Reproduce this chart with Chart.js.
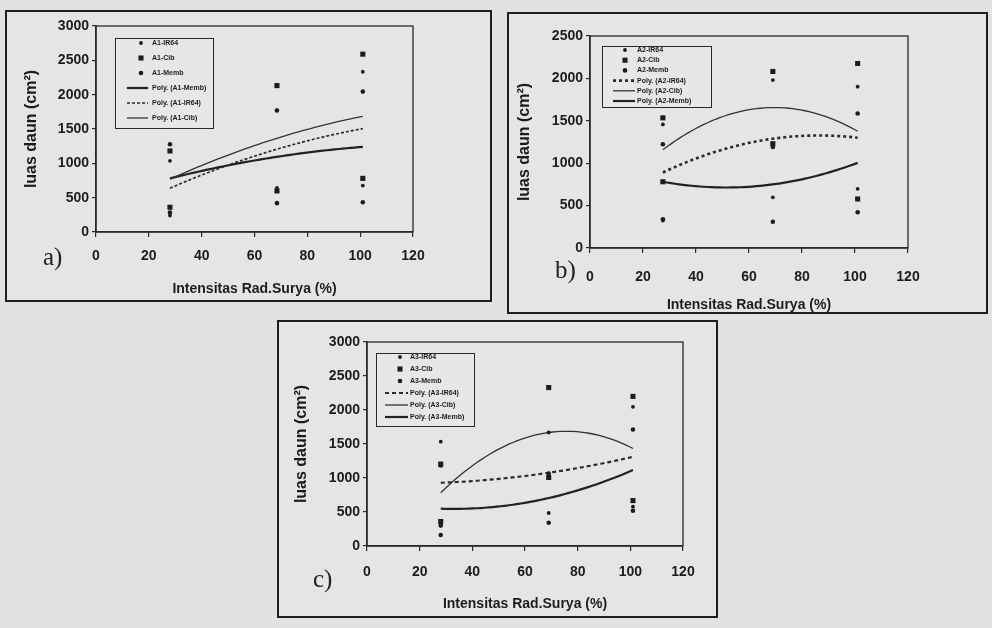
<!DOCTYPE html>
<html>
<head>
<meta charset="utf-8">
<script src="https://cdn.jsdelivr.net/npm/chart.js@4.4.1/dist/chart.umd.min.js"></script>
<style>
  html, body { margin: 0; padding: 0; background: #e4e2e1; }
  body { width: 992px; height: 628px; position: relative; overflow: hidden; }
  .panel { position: absolute; background: #e7e5e4; }
  .panel canvas { position: absolute; left: 0; top: 0; }
  .frame { position: absolute; inset: 0; box-sizing: border-box; border: 2px solid #1e1e1e; pointer-events: none; }
  .tag { position: absolute; font-family: "Liberation Serif", "DejaVu Serif", serif; font-size: 25px; line-height: 1; color: #222; }
</style>
</head>
<body>
<div class="panel" style="left:5px;top:10px;width:487px;height:292px"><canvas id="ca" width="487" height="292"></canvas><div class="frame"></div></div>
<div class="panel" style="left:507px;top:12px;width:481px;height:302px"><canvas id="cb" width="481" height="302"></canvas><div class="frame"></div></div>
<div class="panel" style="left:277px;top:320px;width:441px;height:298px"><canvas id="cc" width="441" height="298"></canvas><div class="frame"></div></div>
<div class="tag" style="left:43px;top:244px">a)</div>
<div class="tag" style="left:555px;top:257px">b)</div>
<div class="tag" style="left:313px;top:566px">c)</div>
<script>
// Solar radiation intensity levels (% of full sun)
const X_TICKS = [0, 20, 40, 60, 80, 100, 120];
const Y_TICKS_3000 = [0, 500, 1000, 1500, 2000, 2500, 3000];
const Y_TICKS_2500 = [0, 500, 1000, 1500, 2000, 2500];

// Leaf area (cm²), replicates at each intensity level
const xA = [28, 68.5, 101];
const A1_IR64 = [[1037, 240], [1770, 642], [2334, 676]];
const A1_Cib  = [[1180, 360], [2132, 598], [2590, 781]];
const A1_Memb = [[1278, 284], [1770, 420], [2045, 434]];

const xB = [27.5, 69, 101];
const A2_IR64 = [[1457, 323], [1980, 598], [1902, 698]];
const A2_Cib  = [[1535, 781], [2082, 1230], [2176, 578]];
const A2_Memb = [[1223, 339], [1191, 309], [1586, 422]];

const xC = [28, 69, 101];
const A3_IR64 = [[1534, 326], [1669, 485], [2046, 578]];
const A3_Cib  = [[1205, 360], [2330, 1008], [2200, 668]];
const A3_Memb = [[162, 300, 1185], [1067, 343], [1713, 519]];

const INK = '#1c1c1c';
Chart.defaults.font.family = "'Liberation Sans', Arial, sans-serif";
Chart.defaults.color = INK;

// Second-order least-squares trendline (the "Poly." entries)
function fitQuadratic(xs, groups) {
  let n = 0, sx = 0, sx2 = 0, sx3 = 0, sx4 = 0, sy = 0, sxy = 0, sx2y = 0;
  xs.forEach((x, i) => groups[i].forEach(y => {
    n++; sx += x; sx2 += x * x; sx3 += x ** 3; sx4 += x ** 4;
    sy += y; sxy += x * y; sx2y += x * x * y;
  }));
  const M = [[n, sx, sx2], [sx, sx2, sx3], [sx2, sx3, sx4]];
  const v = [sy, sxy, sx2y];
  const det = m => m[0][0] * (m[1][1] * m[2][2] - m[1][2] * m[2][1])
                 - m[0][1] * (m[1][0] * m[2][2] - m[1][2] * m[2][0])
                 + m[0][2] * (m[1][0] * m[2][1] - m[1][1] * m[2][0]);
  const D = det(M);
  const c = [0, 1, 2].map(k => det(M.map((row, r) => row.map((val, j) => j === k ? v[r] : val))) / D);
  return x => c[0] + c[1] * x + c[2] * x * x;
}

function points(xs, groups) {
  const out = [];
  xs.forEach((x, i) => groups[i].forEach(y => out.push({ x, y })));
  return out;
}

function trend(xs, groups) {
  const f = fitQuadratic(xs, groups);
  const lo = Math.min(...xs), hi = Math.max(...xs);
  const out = [];
  for (let i = 0; i <= 48; i++) {
    const x = lo + (hi - lo) * i / 48;
    out.push({ x, y: f(x) });
  }
  return out;
}

// Box around the plot area
const plotFrame = {
  id: 'plotFrame',
  afterDraw(chart) {
    const { ctx, chartArea: a } = chart;
    ctx.save();
    ctx.strokeStyle = '#2a2a2a';
    ctx.lineWidth = 1.3;
    ctx.strokeRect(a.left, a.top, a.right - a.left, a.bottom - a.top);
    ctx.restore();
  }
};

// Legend box placed inside the plot area
const insetLegend = {
  id: 'insetLegend',
  afterDatasetsDraw(chart, args, o) {
    const ctx = chart.ctx;
    ctx.save();
    ctx.fillStyle = '#e9e7e6';
    ctx.fillRect(o.x, o.y, o.w, o.h);
    ctx.strokeStyle = '#2a2a2a';
    ctx.lineWidth = 1;
    ctx.strokeRect(o.x + 0.5, o.y + 0.5, o.w, o.h);
    ctx.font = `bold ${o.fontSize}px 'Liberation Sans', Arial, sans-serif`;
    ctx.textBaseline = 'middle';
    ctx.textAlign = 'left';
    o.order.forEach((di, i) => {
      const ds = chart.data.datasets[di];
      const y = o.firstRow + i * o.rowGap;
      if (ds.showLine) {
        ctx.strokeStyle = ds.borderColor;
        ctx.lineWidth = ds.borderWidth;
        ctx.setLineDash(ds.borderDash || []);
        ctx.beginPath();
        ctx.moveTo(o.lineX0, y);
        ctx.lineTo(o.lineX1, y);
        ctx.stroke();
        ctx.setLineDash([]);
      } else {
        ctx.fillStyle = ds.backgroundColor;
        if (ds.pointStyle === 'rect') {
          const s = ds.pointRadius * Math.SQRT1_2;
          ctx.fillRect(o.markerX - s, y - s, 2 * s, 2 * s);
        } else {
          ctx.beginPath();
          ctx.arc(o.markerX, y, ds.pointRadius, 0, Math.PI * 2);
          ctx.fill();
        }
      }
      ctx.fillStyle = INK;
      ctx.fillText(ds.label, o.textX, y);
    });
    ctx.restore();
  }
};

function buildChart(id, p) {
  const datasets = [
    { label: p.tag + '-IR64', data: points(p.x, p.ir64), pointStyle: 'circle', pointRadius: 1.9, backgroundColor: INK, borderWidth: 0 },
    { label: p.tag + '-Cib', data: points(p.x, p.cib), pointStyle: 'rect', pointRadius: 3.6, backgroundColor: INK, borderWidth: 0 },
    { label: p.tag + '-Memb', data: points(p.x, p.memb), pointStyle: 'circle', pointRadius: 2.3, backgroundColor: INK, borderWidth: 0 },
    { label: 'Poly. (' + p.tag + '-IR64)', data: trend(p.x, p.ir64), showLine: true, pointRadius: 0,
      borderColor: '#2b2b2b', borderWidth: p.dashW, borderDash: p.dash, tension: 0 },
    { label: 'Poly. (' + p.tag + '-Cib)', data: trend(p.x, p.cib), showLine: true, pointRadius: 0,
      borderColor: '#333', borderWidth: 1.3, tension: 0 },
    { label: 'Poly. (' + p.tag + '-Memb)', data: trend(p.x, p.memb), showLine: true, pointRadius: 0,
      borderColor: '#222', borderWidth: 2.2, tension: 0 }
  ];
  const g = p.geo;
  return new Chart(document.getElementById(id), {
    type: 'scatter',
    data: { datasets },
    options: {
      responsive: false,
      animation: false,
      events: [],
      layout: { padding: { top: g.top, right: g.right, left: 0, bottom: 0 } },
      plugins: {
        legend: { display: false },
        tooltip: { enabled: false },
        insetLegend: Object.assign({ order: p.order }, p.legend)
      },
      scales: {
        x: {
          type: 'linear', min: 0, max: 120,
          afterBuildTicks: s => { s.ticks = X_TICKS.map(v => ({ value: v })); },
          afterFit: s => { s.height = g.xH; },
          grid: { drawOnChartArea: false, drawTicks: true, tickLength: 5, color: '#2a2a2a', lineWidth: 1.2 },
          border: { display: true, color: '#2a2a2a', width: 1.5 },
          ticks: { padding: g.xPad, color: INK, maxRotation: 0, font: { size: 14, weight: 'bold' },
                   callback: v => String(v) },
          title: { display: true, text: 'Intensitas Rad.Surya (%)', color: INK,
                   font: { size: 14, weight: 'bold' }, padding: { top: 0, bottom: g.xTitlePad } }
        },
        y: {
          type: 'linear', min: 0, max: p.yTicks[p.yTicks.length - 1],
          afterBuildTicks: s => { s.ticks = p.yTicks.map(v => ({ value: v })); },
          afterFit: s => { s.width = g.left; },
          grid: { drawOnChartArea: false, drawTicks: true, tickLength: 4, color: '#2a2a2a', lineWidth: 1.2 },
          border: { display: true, color: '#2a2a2a', width: 1.5 },
          ticks: { padding: 3, color: INK, font: { size: 14, weight: 'bold' },
                   callback: v => String(v) },
          title: { display: true, text: 'luas daun (cm²)', color: INK,
                   font: { size: 16, weight: 'bold' }, padding: { top: g.yTitlePad, bottom: 0 } }
        }
      }
    },
    plugins: [plotFrame, insetLegend]
  });
}

buildChart('ca', {
  tag: 'A1', x: xA, ir64: A1_IR64, cib: A1_Cib, memb: A1_Memb, yTicks: Y_TICKS_3000,
  dash: [3, 2], dashW: 1.7, order: [0, 1, 2, 5, 3, 4],
  geo: { left: 91, top: 16, right: 79, xH: 70, xPad: 11, xTitlePad: 4, yTitlePad: 17 },
  legend: { x: 110, y: 28, w: 98, h: 90, firstRow: 33, rowGap: 15, markerX: 136,
            lineX0: 122, lineX1: 143, textX: 147, fontSize: 7 }
});

buildChart('cb', {
  tag: 'A2', x: xB, ir64: A2_IR64, cib: A2_Cib, memb: A2_Memb, yTicks: Y_TICKS_2500,
  dash: [3, 3], dashW: 2.6, order: [0, 1, 2, 3, 4, 5],
  geo: { left: 83, top: 24, right: 80, xH: 66, xPad: 16, xTitlePad: 0, yTitlePad: 8 },
  legend: { x: 95, y: 34, w: 109, h: 61, firstRow: 38, rowGap: 10.2, markerX: 118,
            lineX0: 106, lineX1: 128, textX: 130, fontSize: 7 }
});

buildChart('cc', {
  tag: 'A3', x: xC, ir64: A3_IR64, cib: A3_Cib, memb: A3_Memb, yTicks: Y_TICKS_3000,
  dash: [4, 3], dashW: 2.2, order: [0, 1, 2, 3, 4, 5],
  geo: { left: 90, top: 22, right: 35, xH: 72, xPad: 13, xTitlePad: 5, yTitlePad: 15 },
  legend: { x: 99, y: 33, w: 98, h: 73, firstRow: 37, rowGap: 12, markerX: 123,
            lineX0: 108, lineX1: 131, textX: 133, fontSize: 7 }
});
</script>
</body>
</html>
